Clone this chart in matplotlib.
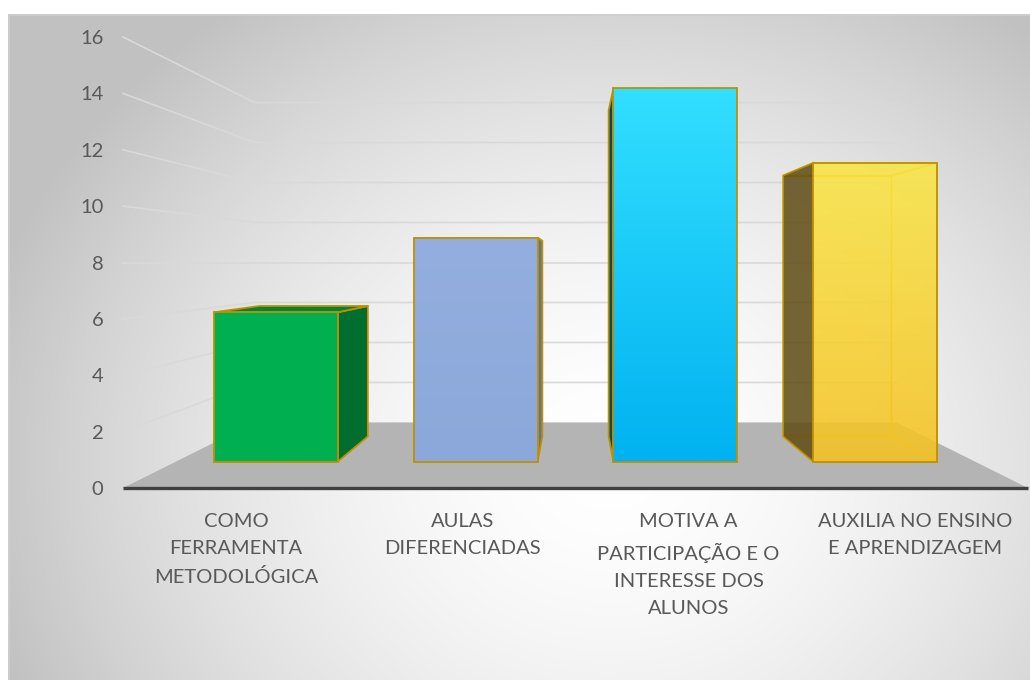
import numpy as np
import matplotlib
matplotlib.use("Agg")
import matplotlib.pyplot as plt
from matplotlib.patches import Polygon
from matplotlib.colors import to_rgb

# ---------------- data ----------------
categories = ["COMO\nFERRAMENTA\nMETODOLÓGICA",
              "AULAS\nDIFERENCIADAS",
              "MOTIVA A\nPARTICIPAÇÃO E O\nINTERESSE DOS\nALUNOS",
              "AUXILIA NO ENSINO\nE APRENDIZAGEM"]
values = [6, 9, 15, 12]
y_ticks = [0, 2, 4, 6, 8, 10, 12, 14, 16]

# ---------------- styles ----------------
front_top = ["#00B050", "#93AEDF", "#33DFFF", "#FAE545"]
front_bot = ["#00B050", "#8CA8DA", "#00B2F0", "#F5C223"]
side_col = ["#006E2E", "#5F7499", "#0B4A5C", "#5E4A12"]
top_col = ["#00843A", "#7F97C4", "#1FA8CC", "#E8C830"]
transparent = [False, False, False, True]
edge = "#BF9000"
txt_col = "#595959"

plt.rcParams['font.family'] = ['Lato', 'DejaVu Sans']

W, H = 1030, 680
fig = plt.figure(figsize=(W / 100, H / 100), dpi=100)

# background with radial gradient
bg = fig.add_axes([0, 0, 1, 1])
bg.set_axis_off()
yy, xx = np.mgrid[0:H, 0:W]
t = np.hypot((xx - 610) / 650.0, (yy - 460) / 560.0)
g = 255 - 62 * np.clip(t, 0, 1) ** 1.7
g[(xx < 8) | (yy < 14)] = 255
img = np.dstack([g, g, g]) / 255.0
bg.imshow(img, extent=(0, W, H, 0), aspect='auto', interpolation='bilinear')
bg.plot([8.5, 8.5, W], [H, 14.5, 14.5], color='#cfcfcf', lw=1.2)
bg.set_xlim(0, W)
bg.set_ylim(H, 0)

# main axes (front plane of the chart)
L, R, B, T = 123, 1028, 488, 37
ax = fig.add_axes([L / W, (H - B) / H, (R - L) / W, (B - T) / H])
ax.patch.set_alpha(0)
for s in ax.spines.values():
    s.set_visible(False)
ax.set_xlim(-16, 16)
ax.set_ylim(0, 16)

n = len(categories)
slot = 32.0 / n
centers = [-16 + slot * (i + 0.5) for i in range(n)]
bar_w = slot * 0.62

XV, VE, K = 0.0, 8.0, 0.41
D0, D1 = 0.323, 0.723


def proj(X, V, d):
    r = 1.0 / (1.0 + K * d)
    return XV + r * (X - XV), VE + r * (V - VE)


def face(pts, **kw):
    xy = [proj(*p) for p in pts]
    poly = Polygon(xy, closed=True, clip_on=False, **kw)
    ax.add_patch(poly)
    return poly


# gridlines: left wall + back wall
for v in y_ticks[1:]:
    x0, y0 = proj(-16, v, 0)
    x1, y1 = proj(-16, v, 1)
    x2, y2 = proj(16, v, 1)
    ax.plot([x0, x1, x2], [y0, y1, y2], color='#d9d9d9', lw=1.2,
            zorder=1, clip_on=False, solid_joinstyle='miter')

# floor
face([(-16, 0, 0), (-16, 0, 1), (16, 0, 1), (16, 0, 0)],
     facecolor='#b4b4b4', edgecolor='none', zorder=2)
# axis line
ax.plot([-16, 16], [0, 0], color='#404040', lw=2.4, zorder=3,
        clip_on=False, solid_capstyle='butt')

z = 4
for i, (c, v) in enumerate(zip(centers, values)):
    X0, X1 = c - bar_w / 2, c + bar_w / 2
    right_vis = X1 < XV
    left_vis = X0 > XV
    top_vis = v < VE
    faces = {
        'back': [(X0, 0, D1), (X1, 0, D1), (X1, v, D1), (X0, v, D1)],
        'bottom': [(X0, 0, D0), (X1, 0, D0), (X1, 0, D1), (X0, 0, D1)],
        'left': [(X0, 0, D0), (X0, 0, D1), (X0, v, D1), (X0, v, D0)],
        'right': [(X1, 0, D0), (X1, 0, D1), (X1, v, D1), (X1, v, D0)],
        'top': [(X0, v, D0), (X1, v, D0), (X1, v, D1), (X0, v, D1)],
    }
    if transparent[i]:
        hidden = ['back', 'bottom']
        hidden += [] if right_vis else ['right']
        hidden += [] if left_vis else ['left']
        hidden += [] if top_vis else ['top']
        for h in hidden:
            face(faces[h], facecolor='none', edgecolor='#EDB800', lw=1.0, zorder=z)
        z += 1
    if right_vis:
        face(faces['right'], facecolor=side_col[i], edgecolor=edge, lw=1.3,
             zorder=z, alpha=0.85 if transparent[i] else 1)
    if left_vis:
        face(faces['left'], facecolor=side_col[i], edgecolor=edge, lw=1.3,
             zorder=z, alpha=0.85 if transparent[i] else 1)
    if top_vis:
        face(faces['top'], facecolor=top_col[i], edgecolor=edge, lw=1.3,
             zorder=z, alpha=0.85 if transparent[i] else 1)
    z += 1
    # front face with vertical gradient
    fx0, fy0 = proj(X0, 0, D0)
    fx1, fy1 = proj(X1, v, D0)
    ct, cb = np.array(to_rgb(front_top[i])), np.array(to_rgb(front_bot[i]))
    tt = np.linspace(0, 1, 100)[:, None]
    grad = (ct * (1 - tt) + cb * tt)[:, None, :].repeat(2, axis=1)
    ax.imshow(grad, extent=(fx0, fx1, fy0, fy1), origin='upper', aspect='auto',
              zorder=z, alpha=0.88 if transparent[i] else 1, clip_on=False,
              interpolation='bilinear')
    z += 1
    face([(X0, 0, D0), (X1, 0, D0), (X1, v, D0), (X0, v, D0)],
         facecolor='none', edgecolor=edge, lw=1.3, zorder=z)
    z += 1

ax.set_xlim(-16, 16)
ax.set_ylim(0, 16)
ax.set_yticks(y_ticks)
ax.set_yticklabels([str(v) for v in y_ticks])
ax.set_xticks(centers)
ax.set_xticklabels(categories, linespacing=1.74)
ax.tick_params(axis='y', length=0, pad=14, labelsize=14.5, labelcolor=txt_col)
ax.tick_params(axis='x', length=0, pad=18, labelsize=14.5, labelcolor=txt_col)

fig.savefig("out.png", dpi=100)
